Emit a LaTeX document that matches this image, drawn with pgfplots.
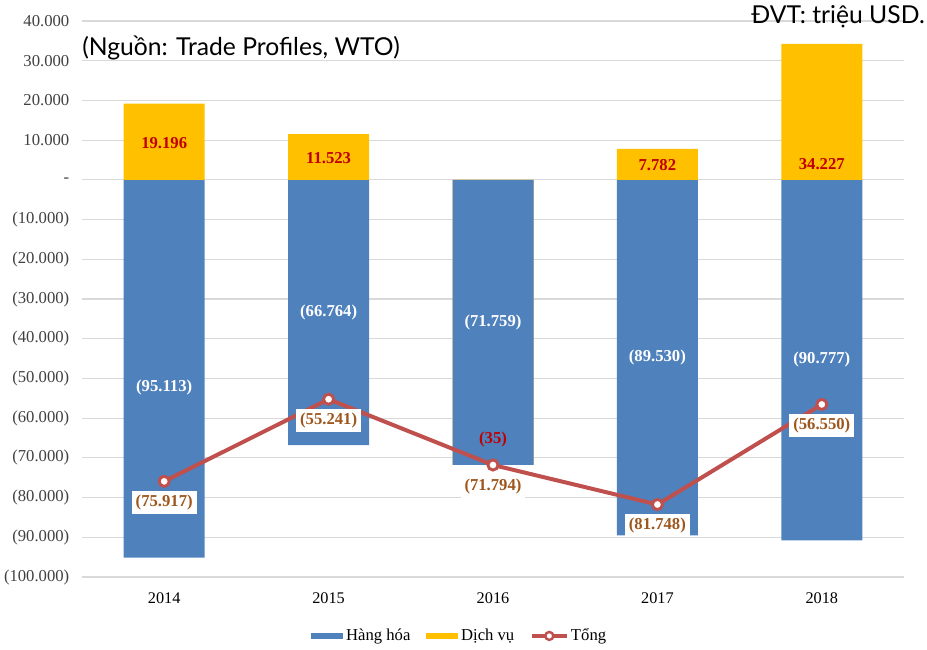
\documentclass[border=0pt]{standalone}
\usepackage{fontspec}
\setmainfont{Liberation Serif}
\newfontfamily\gill{Lato}
\usepackage{pgfplots}
\pgfplotsset{compat=1.18}

\definecolor{cblue}{RGB}{79,129,189}
\definecolor{cyel}{RGB}{255,192,0}
\definecolor{cline}{RGB}{192,80,77}
\definecolor{cred}{RGB}{192,0,0}
\definecolor{cbrown}{RGB}{158,86,28}
\definecolor{cgrid}{RGB}{217,217,217}
\definecolor{ctick}{RGB}{64,64,64}

\begin{document}
\begin{tikzpicture}
\begin{axis}[
    at={(0,0)}, anchor=south west,
    scale only axis,
    width=616.5pt, height=417pt,
    ybar, bar shift=0pt,
    bar width=60.75pt,
    xmin=-0.5, xmax=4.5,
    ymin=-100000, ymax=40000,
    scaled y ticks=false,
    xtick={0,1,2,3,4},
    xticklabels={2014,2015,2016,2017,2018},
    ytick={-100000,-90000,-80000,-70000,-60000,-50000,-40000,-30000,-20000,-10000,0,10000,20000,30000,40000},
    yticklabels={(100.000),(90.000),(80.000),(70.000),(60.000),(50.000),(40.000),(30.000),(20.000),(10.000),-,10.000,20.000,30.000,40.000},
    ymajorgrids,
    major grid style={cgrid, line width=0.8pt},
    axis line style={draw=none},
    major tick length=0pt,
    y tick label style={font=\fontsize{12.5}{14}\selectfont, text=ctick, xshift=-6pt},
    x tick label style={font=\fontsize{12.2}{14}\selectfont, text=black, yshift=-8pt},
    legend style={at={(0.46,-0.106)}, anchor=center, draw=none, fill=none,
        font=\fontsize{12.5}{14}\selectfont, legend columns=-1,
        /tikz/every even column/.append style={column sep=10pt}},
    legend cell align=left,
]
% Dịch vụ, negative part: drawn to the stacked end (goods + services) under the goods bar
\addplot[fill=cyel, draw=none, forget plot]
  coordinates {(0,0) (1,0) (2,-71794) (3,0) (4,0)};
% Hàng hóa
\addplot[fill=cblue, draw=none, area legend,
    legend image code/.code={\fill[cblue] (0pt,-2.4pt) rectangle (24pt,2.4pt);}]
  coordinates {(0,-95113) (1,-66764) (2,-71759) (3,-89530) (4,-90777)};
\addlegendentry{Hàng hóa}
% Dịch vụ (positive part)
\addplot[fill=cyel, draw=none, area legend,
    legend image code/.code={\fill[cyel] (0pt,-2.4pt) rectangle (24pt,2.4pt);}]
  coordinates {(0,19196) (1,11523) (2,0) (3,7782) (4,34227)};
\addlegendentry{Dịch vụ}
% Tổng
\addplot[sharp plot, draw=cline, line width=3pt,
    mark=*, mark size=3.8pt, mark options={fill=white, draw=cline, line width=2.2pt},
    legend image code/.code={\draw[cline, line width=2.5pt] (0pt,0pt) -- (26pt,0pt);
        \draw[cline, fill=white, line width=1.8pt] (13pt,0pt) circle (3pt);},
    nodes near coords, point meta=explicit symbolic,
    every node near coord/.style={anchor=center, yshift=-16pt, fill=white,
        inner sep=3pt, text=cbrown, font=\fontsize{12.5}{14}\selectfont\bfseries}]
  coordinates {(0,-75917)[(75.917)] (1,-55241)[(55.241)] (2,-71794)[(71.794)] (3,-81748)[(81.748)] (4,-56550)[(56.550)]};
\addlegendentry{Tổng}
% labels of the goods bars
\addplot[sharp plot, draw=none, mark=none, forget plot,
    nodes near coords, point meta=explicit symbolic,
    every node near coord/.style={anchor=center, text=white, font=\fontsize{12.5}{14}\selectfont\bfseries}]
  coordinates {(0,-52400)[(95.113)] (1,-33400)[(66.764)] (2,-36000)[(71.759)] (3,-44800)[(89.530)] (4,-45300)[(90.777)]};
% labels of the services bars
\addplot[sharp plot, draw=none, mark=none, forget plot,
    nodes near coords, point meta=explicit symbolic,
    every node near coord/.style={anchor=center, text=cred, font=\fontsize{12.5}{14}\selectfont\bfseries}]
  coordinates {(0,9300)[19.196] (1,5600)[11.523] (2,-65500)[(35)] (3,3800)[7.782] (4,4000)[34.227]};
\end{axis}
\node[anchor=west, inner sep=0pt, font=\gill\fontsize{18.5}{20}\selectfont] at (0pt,396.75pt) {(Nguồn: Trade Profiles, WTO)};
\node[anchor=east, inner sep=0pt, font=\gill\fontsize{18.5}{20}\selectfont] at (632.25pt,420pt) {ĐVT: triệu USD.};
\pgfresetboundingbox
\path[use as bounding box] (-61.5pt,-54pt) rectangle (633.75pt,432.75pt);
\end{tikzpicture}
\end{document}
